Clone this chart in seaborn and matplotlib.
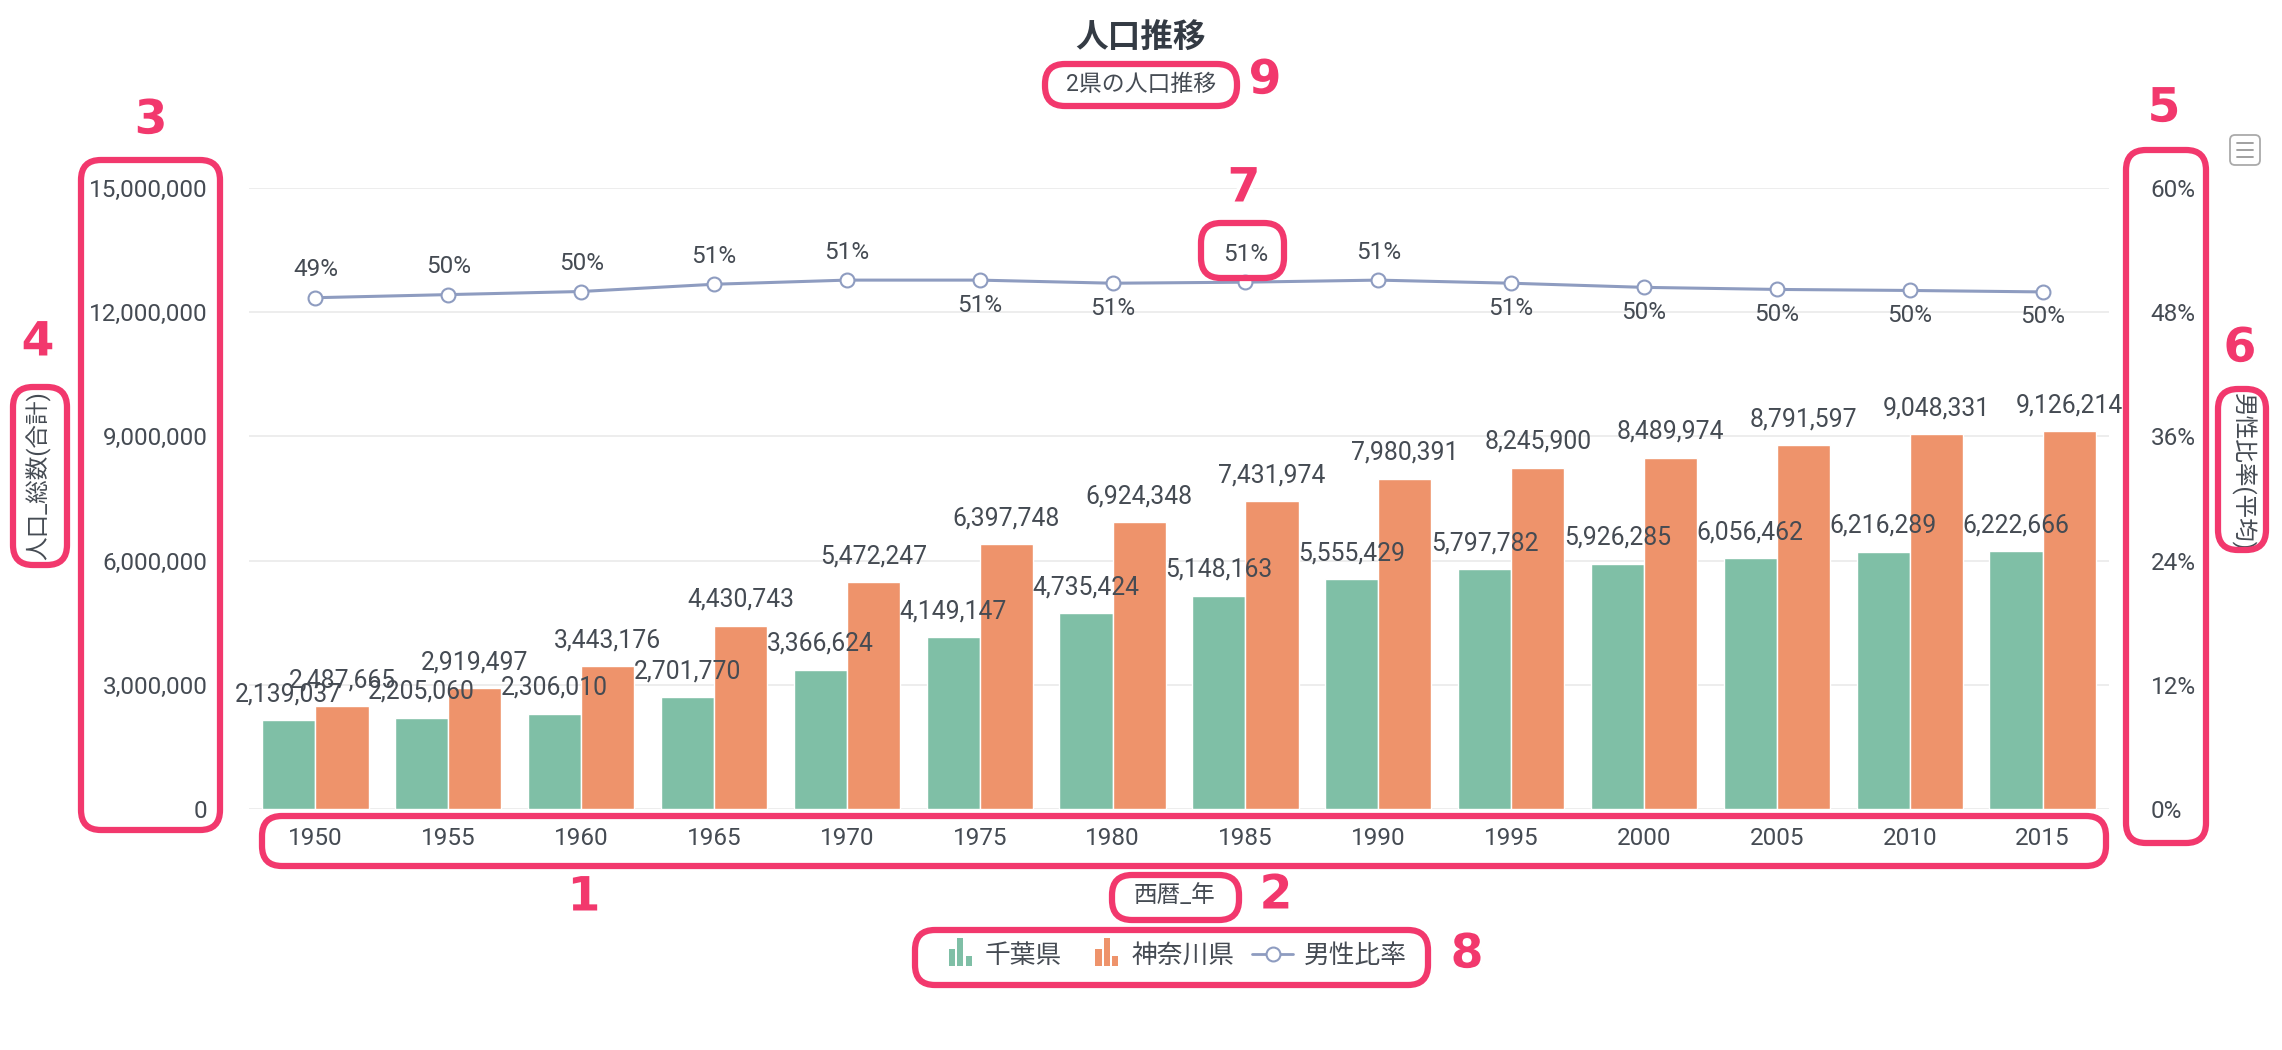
import numpy as np
import pandas as pd
import matplotlib
matplotlib.use("Agg")
import matplotlib.pyplot as plt
import seaborn as sns
from matplotlib.patches import Rectangle, FancyBboxPatch, Patch
from matplotlib.lines import Line2D
from matplotlib.legend_handler import HandlerBase
from matplotlib.transforms import IdentityTransform
import matplotlib.patheffects as pe

# ---------------- data ----------------
years = ["1950", "1955", "1960", "1965", "1970", "1975", "1980",
         "1985", "1990", "1995", "2000", "2005", "2010", "2015"]
chiba = [2139037, 2205060, 2306010, 2701770, 3366624, 4149147, 4735424,
         5148163, 5555429, 5797782, 5926285, 6056462, 6216289, 6222666]
kanagawa = [2487665, 2919497, 3443176, 4430743, 5472247, 6397748, 6924348,
            7431974, 7980391, 8245900, 8489974, 8791597, 9048331, 9126214]
male_ratio = [0.494, 0.497, 0.500, 0.507, 0.511, 0.511, 0.508,
              0.509, 0.511, 0.508, 0.504, 0.502, 0.501, 0.4996]
prefs = ["千葉県", "神奈川県"]
ratio_name = "男性比率"
left_ticks = [0, 3000000, 6000000, 9000000, 12000000, 15000000]
right_ticks = [0, 0.12, 0.24, 0.36, 0.48, 0.60]
# label placement for line labels (style, not data)
label_side = ["up", "up", "up", "up", "up", "down", "down",
              "up", "up", "down", "down", "down", "down", "down"]

# ---------------- style ----------------
W, H = 2282, 1050
GREEN = "#7fbfa6"
ORANGE = "#ee936b"
LINEC = "#8e9cc0"
TXT = "#454b53"
TITLE = "#343b44"
PINK = "#f2386d"
GRID = "#ececec"

sns.set_theme(style="white")
plt.rcParams["font.family"] = ["Roboto", "Noto Sans CJK JP", "DejaVu Sans"]

fig = plt.figure(figsize=(W / 100, H / 100), dpi=100)
L, R, T, B = 249, 2109, 188, 809
ax = fig.add_axes([L / W, 1 - B / H, (R - L) / W, (B - T) / H])

df = pd.DataFrame({
    "西暦_年": years * 2,
    "人口": chiba + kanagawa,
    "県": [prefs[0]] * len(years) + [prefs[1]] * len(years),
})

sns.barplot(data=df, x="西暦_年", y="人口", hue="県", hue_order=prefs,
            palette=[GREEN, ORANGE], width=0.8, saturation=1, errorbar=None,
            legend=False, ax=ax, zorder=2)

for cont, vals in zip(ax.containers, [chiba, kanagawa]):
    ax.bar_label(cont, labels=[f"{v:,}" for v in vals], padding=10,
                 fontsize=17.8, color=TXT)

ax.set_ylim(0, 15000000)
ax.set_yticks(left_ticks)
ax.set_yticklabels([f"{v:,}" for v in left_ticks])
ax.yaxis.grid(True, color=GRID, lw=1.3, zorder=0)
ax.set_axisbelow(True)
for s in ax.spines.values():
    s.set_visible(False)
ax.tick_params(axis="both", length=0, labelsize=17.5, colors=TXT)
ax.tick_params(axis="y", pad=30)
ax.tick_params(axis="x", pad=13)
ax.set_xlabel("")
ax.set_ylabel("")

ax2 = ax.twinx()
sns.lineplot(x=years, y=male_ratio, ax=ax2, sort=False, color=LINEC,
             linewidth=2.2, marker="o", markersize=10,
             markerfacecolor="white", markeredgecolor=LINEC,
             markeredgewidth=1.5, zorder=3)
ax2.set_ylim(0, 0.6)
ax2.set_yticks(right_ticks)
ax2.set_yticklabels([f"{round(v * 100)}%" for v in right_ticks])
ax2.tick_params(axis="y", length=0, labelsize=17.5, colors=TXT, pad=30)
for s in ax2.spines.values():
    s.set_visible(False)
ax2.grid(False)
ax2.set_ylabel("")

for i, (v, side) in enumerate(zip(male_ratio, label_side)):
    off = 20 if side == "up" else -18
    ax2.annotate(f"{round(v * 100)}%", xy=(i, v), xytext=(0, off),
                 textcoords="offset points", ha="center", va="center",
                 fontsize=17.5, color=TXT)

ax.set_xlim(-0.5, len(years) - 0.5)

# ---------------- titles / axis names ----------------
def fx(x):
    return x / W

def fy(y):
    return 1 - y / H

fig.text(0.5, fy(39), "人口推移", ha="center", va="center", fontsize=23.5,
         fontweight="bold", color=TITLE)
fig.text(0.5, fy(84), "2県の人口推移", ha="center", va="center",
         fontsize=16.5, color=TXT)
fig.text(fx(39), fy(476), "人口_総数(合計)", rotation=90, ha="center",
         va="center", fontsize=17, color=TXT)
fig.text(fx(2243), fy(472), "男性比率(平均)", rotation=-90, ha="center",
         va="center", fontsize=17, color=TXT)
fig.text(fx(1175), fy(896), "西暦_年", ha="center", va="center",
         fontsize=17, color=TXT)

# ---------------- legend ----------------
class BarIconHandler(HandlerBase):
    def create_artists(self, legend, orig_handle, xdescent, ydescent,
                       width, height, fontsize, trans):
        c = orig_handle.get_facecolor()
        x0, y0 = -xdescent, -ydescent
        iw = fontsize * 0.9
        ih = fontsize * 1.1
        bw = iw * 0.27
        gap = (iw - 3 * bw) / 2
        start = x0 + width - iw - fontsize * 0.1
        hs = [0.62, 1.0, 0.34]
        arts = []
        for k, hh in enumerate(hs):
            r = Rectangle((start + k * (bw + gap), y0 - fontsize * 0.12), bw,
                          ih * hh, facecolor=c, edgecolor="none",
                          transform=trans)
            arts.append(r)
        return arts

handles = [Patch(facecolor=GREEN), Patch(facecolor=ORANGE),
           Line2D([], [], color=LINEC, lw=2, marker="o", markersize=10,
                  markerfacecolor="white", markeredgecolor=LINEC,
                  markeredgewidth=1.5)]
leg = fig.legend(handles, prefs + [ratio_name], loc="center",
                 bbox_to_anchor=(fx(1170), fy(956)), ncol=3, frameon=False,
                 fontsize=18.5, handlelength=1.6, handletextpad=0.4,
                 columnspacing=0.7,
                 handler_map={Patch: BarIconHandler()})
for t in leg.get_texts():
    t.set_color(TXT)

# ---------------- menu icon ----------------
idt = IdentityTransform()
fig.add_artist(FancyBboxPatch((2230, H - 165), 30, 30,
                              boxstyle="round,pad=0,rounding_size=5",
                              transform=idt, fill=False, ec="#aaaaaa", lw=1.3))
for yy in (143, 150, 157):
    fig.add_artist(Line2D([2237, 2253], [H - yy, H - yy], transform=idt,
                          color="#999999", lw=1.3))

# ---------------- callout annotations ----------------
boxes = [(262, 816, 2106, 866), (1112, 875, 1239, 920), (81, 160, 220, 830),
         (13, 387, 67, 565), (2126, 150, 2206, 843), (2218, 389, 2266, 550),
         (1201, 223, 1284, 278), (915, 930, 1428, 985), (1045, 64, 1237, 106)]
for (x0, y0, x1, y1) in boxes:
    fig.add_artist(FancyBboxPatch((x0, H - y1), x1 - x0, y1 - y0,
                                  boxstyle="round,pad=0,rounding_size=20",
                                  transform=idt, fill=False, ec=PINK, lw=4.5,
                                  zorder=10))
nums = [("1", 584, 898), ("2", 1276, 896), ("3", 151, 121), ("4", 38, 343),
        ("5", 2164, 109), ("6", 2240, 349), ("7", 1244, 189), ("8", 1467, 955),
        ("9", 1265, 81)]
for s, x, y in nums:
    fig.text(fx(x), fy(y), s, ha="center", va="center", fontsize=34,
             fontweight="heavy", family=["DejaVu Sans"], color=PINK, zorder=11,
             path_effects=[pe.withSimplePatchShadow(offset=(1.5, -1.5),
                                                    shadow_rgbFace="#999999",
                                                    alpha=0.4),
                           pe.withStroke(linewidth=5, foreground="white")])

fig.savefig("out.png", dpi=100, facecolor="white")
